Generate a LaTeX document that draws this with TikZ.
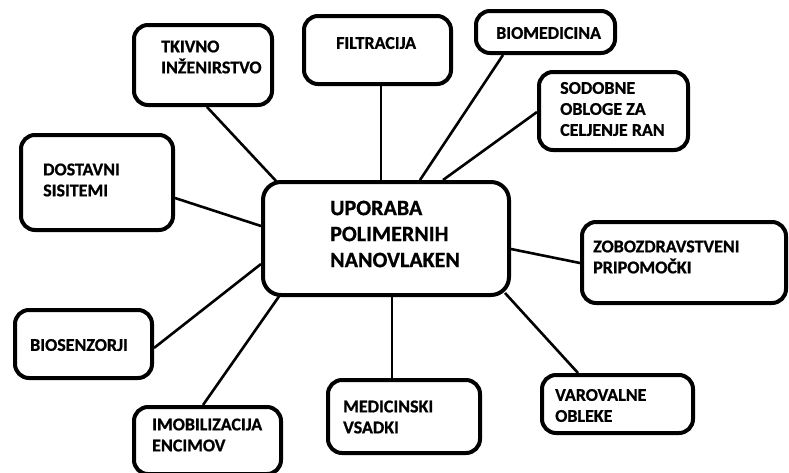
\documentclass[tikz,border=0pt]{standalone}
\usepackage{fontspec}
\setmainfont{Carlito}[BoldFeatures={FakeBold=0.8}]
\usetikzlibrary{calc,backgrounds}
\tikzset{
  box/.style={draw=black, line width=4pt, rounded corners=14pt, fill=white, inner sep=0pt},
  hub/.style={box, rounded corners=18pt},
  conn/.style={draw=black, line width=2.6pt},
  lbl/.style={anchor=west, align=left, inner sep=0pt, font=\fontsize{18}{21}\selectfont\bfseries},
  hublbl/.style={anchor=west, align=left, inner sep=0pt, font=\fontsize{22}{26}\selectfont\bfseries}
}
\begin{document}
\begin{tikzpicture}[x=1pt, y=-1pt]
\useasboundingbox (0,0) rectangle (789,472);
% boxes
\node[hub, minimum width=246pt, minimum height=113pt] (c) at (386,238.5) {};
\node[box, minimum width=138pt, minimum height=80pt] (tk) at (203,65) {};
\node[box, minimum width=147pt, minimum height=68pt] (fi) at (377.5,50) {};
\node[box, minimum width=139pt, minimum height=42pt] (bm) at (545.5,32) {};
\node[box, minimum width=149pt, minimum height=78pt] (so) at (613.5,111) {};
\node[box, minimum width=152pt, minimum height=95pt] (do) at (97,182.5) {};
\node[box, minimum width=204pt, minimum height=81pt] (zo) at (684,262.5) {};
\node[box, minimum width=137pt, minimum height=68pt] (bs) at (83.5,344) {};
\node[box, minimum width=147pt, minimum height=67pt] (im) at (207.5,440.5) {};
\node[box, minimum width=152pt, minimum height=73pt] (me) at (404,416.5) {};
\node[box, minimum width=151pt, minimum height=58pt] (va) at (617.5,404) {};
% labels
\node[hublbl] (ct) at (330,234) {UPORABA\\POLIMERNIH\\NANOVLAKEN};
\node[lbl] (tkt) at (161,57) {TKIVNO\\INŽENIRSTVO};
\node[lbl] (fit) at (336,43) {FILTRACIJA};
\node[lbl] (bmt) at (496,33) {BIOMEDICINA};
\node[lbl] (sot) at (560,109) {SODOBNE\\OBLOGE ZA\\CELJENJE RAN};
\node[lbl] (dot) at (43,180) {DOSTAVNI\\SISITEMI};
\node[lbl] (zot) at (593,257) {ZOBOZDRAVSTVENI\\PRIPOMOČKI};
\node[lbl] (bst) at (30,345) {BIOSENZORJI};
\node[lbl] (imt) at (152,435) {IMOBILIZACIJA\\ENCIMOV};
\node[lbl] (met) at (343,417) {MEDICINSKI\\VSADKI};
\node[lbl] (vat) at (555,405.5) {VAROVALNE\\OBLEKE};
% connectors
\begin{pgfonlayer}{background}
\draw[conn] ($(tk.south)+(4,0)$) -- ($(c.north)+(-109,2)$);
\draw[conn] ($(fi.south)+(3.5,0)$) -- ($(c.north)+(-5,0)$);
\draw[conn] ($(bm.south)+(-42.5,0)$) -- ($(c.north)+(34,0)$);
\draw[conn] ($(so.west)+(0,1)$) -- ($(c.north)+(57,0)$);
\draw[conn] ($(do.east)+(0,15.5)$) -- ($(c.west)+(0,-12.5)$);
\draw[conn] ($(zo.west)+(0,0.5)$) -- ($(c.east)+(0,10.5)$);
\draw[conn] ($(bs.east)+(0,4)$) -- ($(c.west)+(0,25.5)$);
\draw[conn] ($(im.north)+(-4.5,0)$) -- ($(c.south)+(-106,-2)$);
\draw[conn] ($(me.north)+(-12,0)$) -- ($(c.south)+(6,0)$);
\draw[conn] ($(va.north)+(-39.5,0)$) -- ($(c.south east)+(-6,-4)$);
\end{pgfonlayer}
\end{tikzpicture}
\end{document}
